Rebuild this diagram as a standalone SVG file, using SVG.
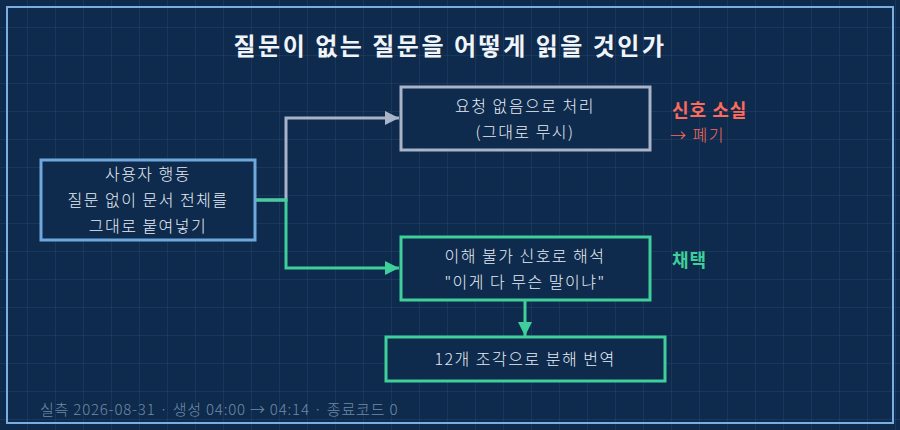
<svg xmlns="http://www.w3.org/2000/svg" width="900" height="430" viewBox="0 0 900 430">
<defs>
<pattern id="grid" width="28" height="28" patternUnits="userSpaceOnUse"><path d="M28 0V28M0 28H28" fill="none" stroke="#24436e" stroke-width="1"/></pattern>
<marker id="ag" viewBox="0 0 10 10" refX="10" refY="5" markerWidth="14" markerHeight="14" markerUnits="userSpaceOnUse" orient="auto"><path d="M0 0L10 5L0 10z" fill="#a9b4c8"/></marker>
<marker id="ac" viewBox="0 0 10 10" refX="10" refY="5" markerWidth="14" markerHeight="14" markerUnits="userSpaceOnUse" orient="auto"><path d="M0 0L10 5L0 10z" fill="#3ecf9a"/></marker>
<style>
text{font-family:"Noto Sans CJK KR","Noto Sans",sans-serif;fill:#e6edf5;font-size:16px;letter-spacing:1.5px;font-weight:300;text-anchor:middle}
.box{fill:#0e2a4c;stroke-width:3}
</style>
</defs>
<rect width="900" height="430" fill="#0e2a4c"/>
<rect width="900" height="430" fill="url(#grid)"/>
<rect x="7" y="7" width="886" height="416" fill="none" stroke="#7aaee0" stroke-width="2"/>
<text x="450" y="55" style="font-size:24px;letter-spacing:2.5px;font-weight:bold;fill:#f0f4f8">질문이 없는 질문을 어떻게 읽을 것인가</text>
<g id="connectors" fill="none" stroke-width="3">
<path d="M255 200H286V118H399" stroke="#a9b4c8" marker-end="url(#ag)"/>
<path d="M255 200H286V268H399" stroke="#3ecf9a" marker-end="url(#ac)"/>
<path d="M525 300V336" stroke="#3ecf9a" marker-end="url(#ac)"/>
</g>
<g id="user"><rect class="box" x="41" y="160" width="214" height="80" stroke="#6fa8dc"/>
<text x="148" y="180">사용자 행동</text><text x="148" y="206">질문 없이 문서 전체를</text><text x="148" y="232">그대로 붙여넣기</text></g>
<g id="ignore"><rect class="box" x="401" y="87" width="249" height="63" stroke="#a9b4c8"/>
<text x="525" y="112">요청 없음으로 처리</text><text x="525" y="138">(그대로 무시)</text></g>
<g id="interpret"><rect class="box" x="401" y="237" width="249" height="63" stroke="#3ecf9a"/>
<text x="525" y="262">이해 불가 신호로 해석</text><text x="525" y="288">"이게 다 무슨 말이냐"</text></g>
<g id="translate"><rect class="box" x="386" y="337" width="279" height="44" stroke="#3ecf9a"/>
<text x="525" y="365">12개 조각으로 분해 번역</text></g>
<g id="labels">
<text x="672" y="117" style="text-anchor:start;font-weight:bold;font-size:18px;letter-spacing:1px;fill:#ff6b5b">신호 소실</text>
<text x="670" y="141" style="text-anchor:start;fill:#ff6b5b">→ 폐기</text>
<text x="672" y="267" style="text-anchor:start;font-weight:bold;font-size:18px;letter-spacing:1px;fill:#3ecf9a">채택</text>
</g>
<text x="40" y="415" style="text-anchor:start;font-size:15px;letter-spacing:0.8px;fill:#6f8aa8">실측 2026-08-31 · 생성 04:00 → 04:14 · 종료코드 0</text>
</svg>
